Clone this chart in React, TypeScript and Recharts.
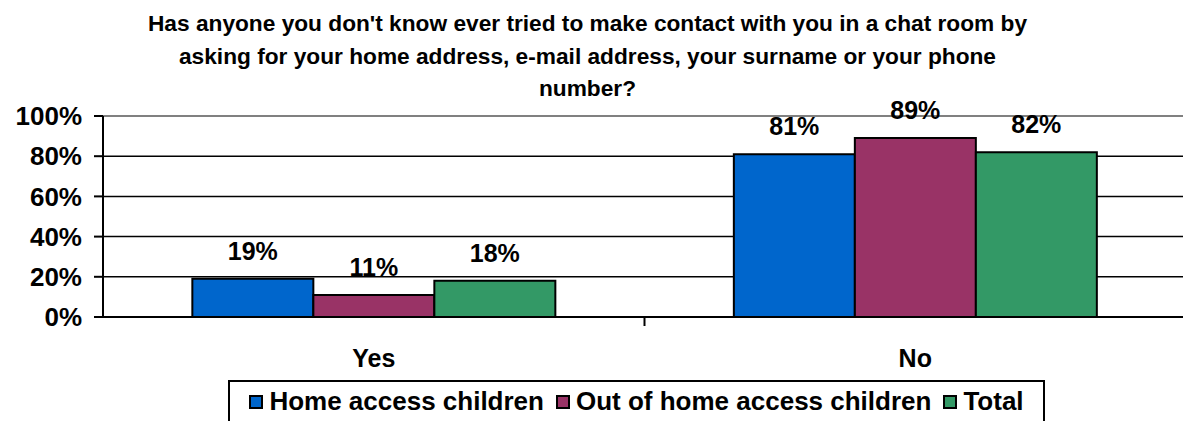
import {
  Bar,
  BarChart,
  CartesianGrid,
  LabelList,
  ReferenceLine,
  XAxis,
  YAxis,
} from "recharts";

const titleLines = [
  "Has anyone you don't know ever tried to make contact with you in a chat room by",
  "asking for your home address, e-mail address, your surname or your phone",
  "number?",
];

const categories = ["Yes", "No"];
const homeAccess = [19, 81];
const outOfHome = [11, 89];
const total = [18, 82];
const yTicks = [0, 20, 40, 60, 80, 100];

const seriesInfo = [
  { key: "home", name: "Home access children", color: "#0066cc" },
  { key: "out", name: "Out of home access children", color: "#993366" },
  { key: "total", name: "Total", color: "#339966" },
];

const data = categories.map((c, i) => ({
  category: c,
  home: homeAccess[i],
  out: outOfHome[i],
  total: total[i],
}));

const W = 1183;
const H = 421;
const FONT = "'Liberation Sans', Arial, sans-serif";
const margin = { top: 116, right: -3, left: 0, bottom: 44 };
const Y_AXIS_W = 103;
const bandWidth = (W - Y_AXIS_W - margin.right) / categories.length;

function CategoryTick(props: any) {
  const { x, y, payload } = props;
  const edge = x + bandWidth / 2;
  return (
    <g>
      <line x1={edge} y1={y - 9} x2={edge} y2={y + 1} stroke="#000" strokeWidth={2} />
      <text
        x={x}
        y={y + 42}
        textAnchor="middle"
        fontFamily={FONT}
        fontWeight="bold"
        fontSize={25}
        fill="#000"
      >
        {payload.value}
      </text>
    </g>
  );
}

export default function App() {
  return (
    <div
      style={{
        position: "absolute",
        left: 0,
        top: 0,
        width: W,
        height: H,
        background: "#fff",
        overflow: "hidden",
        fontFamily: FONT,
      }}
    >
      <div
        style={{
          position: "absolute",
          left: 0,
          top: 7,
          width: W - 8,
          textAlign: "center",
          fontWeight: "bold",
          fontSize: 22.7,
          lineHeight: "32.5px",
          color: "#000",
        }}
      >
        {titleLines.map((l) => (
          <div key={l}>{l}</div>
        ))}
      </div>

      <BarChart
        width={W}
        height={H}
        data={data}
        margin={margin}
        barCategoryGap="16.5%"
        barGap={0}
        style={{ overflow: "visible" }}
      >
        <CartesianGrid vertical={false} stroke="#000" strokeWidth={1.5} />
        <ReferenceLine y={100} stroke="#808080" strokeWidth={2} />
        <XAxis
          dataKey="category"
          height={60}
          axisLine={{ stroke: "#000", strokeWidth: 2 }}
          tickLine={false}
          tick={<CategoryTick />}
          interval={0}
        />
        <YAxis
          width={Y_AXIS_W}
          domain={[0, 100]}
          ticks={yTicks}
          tickFormatter={(v) => `${v}%`}
          axisLine={{ stroke: "#000", strokeWidth: 2 }}
          tickLine={{ stroke: "#000", strokeWidth: 2 }}
          tickSize={9}
          tickMargin={12}
          tick={{ fontSize: 26, fontWeight: "bold", fill: "#000", fontFamily: FONT }}
        />
        {seriesInfo.map((s) => (
          <Bar
            key={s.key}
            dataKey={s.key}
            name={s.name}
            fill={s.color}
            stroke="#000"
            strokeWidth={2}
            isAnimationActive={false}
          >
            <LabelList
              dataKey={s.key}
              position="top"
              offset={19}
              formatter={(v: any) => `${v}%`}
              style={{ fontSize: 25, fontWeight: "bold", fill: "#000", fontFamily: FONT }}
            />
          </Bar>
        ))}
      </BarChart>

      <div
        style={{
          position: "absolute",
          left: 228,
          top: 380,
          width: 817,
          height: 60,
          border: "2px solid #000",
          boxSizing: "border-box",
          display: "flex",
          alignItems: "flex-start",
          justifyContent: "center",
          paddingTop: 4,
          fontWeight: "bold",
          fontSize: 26,
          color: "#000",
          whiteSpace: "nowrap",
        }}
      >
        {seriesInfo.map((s, i) => (
          <div
            key={s.key}
            style={{
              display: "flex",
              alignItems: "center",
              marginRight: i < seriesInfo.length - 1 ? 12 : 0,
            }}
          >
            <span
              style={{
                display: "inline-block",
                width: 10,
                height: 10,
                background: s.color,
                border: "2px solid #000",
                marginRight: 6,
              }}
            />
            <span>{s.name}</span>
          </div>
        ))}
      </div>
    </div>
  );
}
